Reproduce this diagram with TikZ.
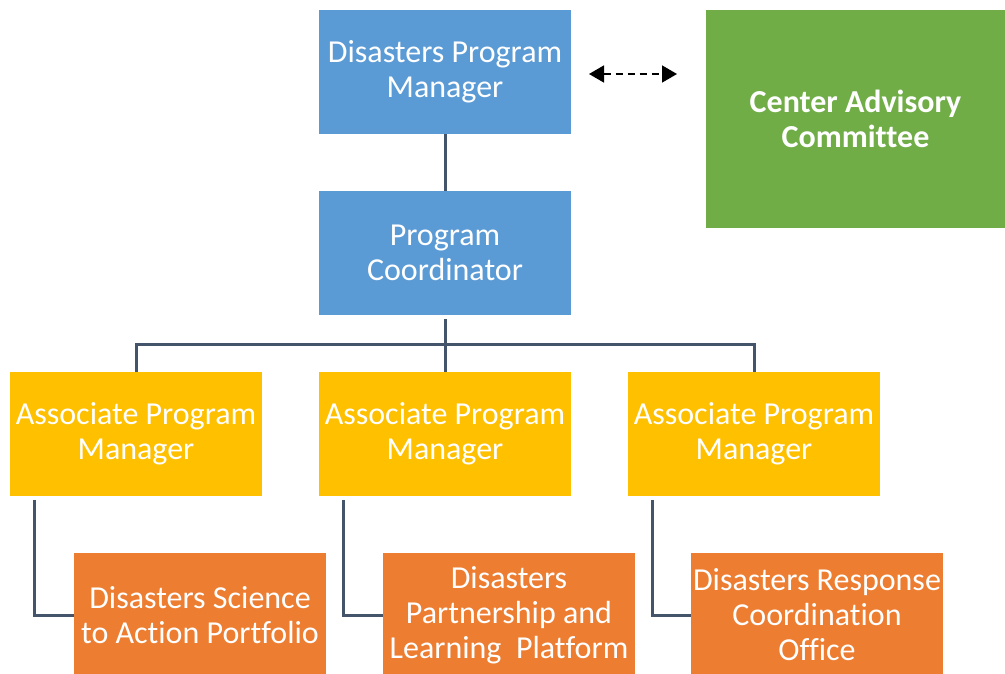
\documentclass[tikz,border=0pt]{standalone}
\usepackage{fontspec}
\setmainfont[Ligatures={TeX,CommonOff}]{Carlito}
\usetikzlibrary{arrows.meta}
\definecolor{boxblue}{HTML}{5B9BD5}
\definecolor{boxgreen}{HTML}{70AD47}
\definecolor{boxyellow}{HTML}{FFC000}
\definecolor{boxorange}{HTML}{ED7D31}
\definecolor{linkslate}{HTML}{44546A}
\tikzset{
  x=1pt, y=1pt,
  unit/.style={inner sep=0pt, minimum width=252pt, minimum height=124pt,
    align=center, text=white, font=\fontsize{32}{35}\selectfont},
  bluebox/.style={unit, fill=boxblue},
  yellowbox/.style={unit, fill=boxyellow},
  orangebox/.style={unit, fill=boxorange},
  greenbox/.style={inner sep=0pt, minimum width=299pt, minimum height=218pt,
    align=center, text=white, fill=boxgreen, font=\fontsize{32}{35}\selectfont\bfseries},
  link/.style={draw=linkslate, line width=3pt},
  peer/.style={draw=black, line width=1.5pt, dash pattern=on 7pt off 5pt,
    {Triangle[length=15pt,width=17pt]}-{Triangle[length=15pt,width=17pt]}}
}
\begin{document}
\begin{tikzpicture}
\clip (0,0) rectangle (1005,-674);
\fill[white] (0,0) rectangle (1005,-674);

% management row
\node[bluebox] (dpm) at (445,-72) {Disasters Program\\Manager};
\node[greenbox] (cac) at (855.5,-119) {Center Advisory\\Committee};
\node[bluebox] (pc) at (445,-253) {Program\\Coordinator};

% associate program managers
\node[yellowbox] (apm1) at (136,-434) {Associate Program\\Manager};
\node[yellowbox] (apm2) at (445,-434) {Associate Program\\Manager};
\node[yellowbox] (apm3) at (754,-434) {Associate Program\\Manager};

% programme offices
\node[orangebox] (off1) at (200,-615) {Disasters Science\\to Action Portfolio};
\node[orangebox] (off2) at (509,-615) {Disasters\\Partnership and\\Learning\ \ Platform};
\node[orangebox] (off3) at (817,-615) {Disasters Response\\Coordination\\Office};

% advisory link
\coordinate (pl) at (589,-74);
\coordinate (pr) at (677,-74);
\draw[peer] (pl) -- (pr);

% hierarchy connectors
\draw[link] (dpm.south) -- (pc.north);
\coordinate (bus) at (445,-344);
\draw[link] ([yshift=-4pt]pc.south) -- (bus);
\draw[link] (bus) -| (apm1.north);
\draw[link] (bus) -| (apm3.north);
\draw[link] (bus) -- (apm2.north);

% elbows to the offices
\draw[link] ([xshift=-102pt,yshift=-4pt]apm1.south) |- (off1.west);
\draw[link] ([xshift=-102pt,yshift=-4pt]apm2.south) |- (off2.west);
\draw[link] ([xshift=-102pt,yshift=-4pt]apm3.south) |- (off3.west);
\end{tikzpicture}
\end{document}
